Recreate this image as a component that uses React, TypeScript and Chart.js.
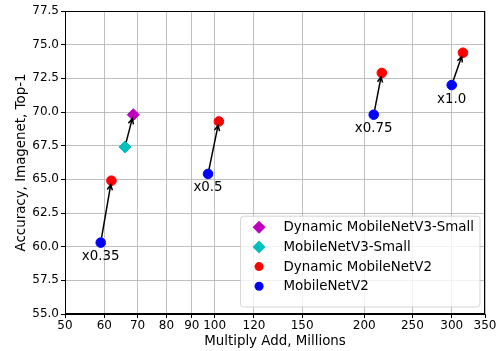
import React, { useEffect, useRef } from 'react';
import { Chart, registerables } from 'chart.js';

Chart.register(...registerables);

const widthLabels = ['x0.35', 'x0.5', 'x0.75', 'x1.0'];
const mbv2MAdds = [59, 97, 209, 300];
const mbv2Acc = [60.3, 65.4, 69.8, 72.0];
const dynMbv2MAdds = [62, 102, 217, 316];
const dynMbv2Acc = [64.9, 69.3, 72.9, 74.4];
const mbv3MAdds = [66];
const mbv3Acc = [67.4];
const dynMbv3MAdds = [68.6];
const dynMbv3Acc = [69.8];
const xTicks = [50, 60, 70, 80, 90, 100, 120, 150, 200, 250, 300, 350];
const yTicks = [55, 57.5, 60, 62.5, 65, 67.5, 70, 72.5, 75, 77.5];

const FONT = "'DejaVu Sans', sans-serif";
const BIG = 13.4;

function pts(xs: number[], ys: number[]) {
  return xs.map((x, i) => ({ x, y: ys[i] }));
}

function drawArrow(ctx: CanvasRenderingContext2D, x0: number, y0: number, x1: number, y1: number, shrinkA: number, shrinkB: number) {
  const dx = x1 - x0;
  const dy = y1 - y0;
  const len = Math.hypot(dx, dy);
  const ux = dx / len;
  const uy = dy / len;
  const sx = x0 + ux * shrinkA;
  const sy = y0 + uy * shrinkA;
  const ex = x1 - ux * shrinkB;
  const ey = y1 - uy * shrinkB;
  ctx.beginPath();
  ctx.moveTo(sx, sy);
  ctx.lineTo(ex, ey);
  const hl = 6;
  const ang = Math.atan2(uy, ux);
  const a = 0.45;
  ctx.moveTo(ex - hl * Math.cos(ang - a), ey - hl * Math.sin(ang - a));
  ctx.lineTo(ex, ey);
  ctx.lineTo(ex - hl * Math.cos(ang + a), ey - hl * Math.sin(ang + a));
  ctx.stroke();
}

const annotPlugin = {
  id: 'annot',
  afterDatasetsDraw(chart: any) {
    const { ctx, scales } = chart;
    const xs = scales.x;
    const ys = scales.y;
    ctx.save();
    ctx.strokeStyle = '#000';
    ctx.lineWidth = 1.5;
    ctx.lineJoin = 'miter';
    for (let i = 0; i < mbv2MAdds.length; i++) {
      drawArrow(
        ctx,
        xs.getPixelForValue(mbv2MAdds[i]), ys.getPixelForValue(mbv2Acc[i]),
        xs.getPixelForValue(dynMbv2MAdds[i]), ys.getPixelForValue(dynMbv2Acc[i]),
        5, 4
      );
    }
    for (let i = 0; i < mbv3MAdds.length; i++) {
      drawArrow(
        ctx,
        xs.getPixelForValue(mbv3MAdds[i]), ys.getPixelForValue(mbv3Acc[i]),
        xs.getPixelForValue(dynMbv3MAdds[i]), ys.getPixelForValue(dynMbv3Acc[i]),
        5, 4
      );
    }
    ctx.fillStyle = '#000';
    ctx.font = `${BIG}px ${FONT}`;
    ctx.textAlign = 'center';
    ctx.textBaseline = 'middle';
    for (let i = 0; i < widthLabels.length; i++) {
      ctx.fillText(widthLabels[i], xs.getPixelForValue(mbv2MAdds[i]), ys.getPixelForValue(mbv2Acc[i]) + 14);
    }
    ctx.restore();
  },
  afterDraw(chart: any) {
    const { ctx, chartArea: ca } = chart;
    ctx.save();
    // spines
    ctx.strokeStyle = '#000';
    ctx.lineWidth = 1;
    ctx.strokeRect(Math.round(ca.left) + 0.5, Math.round(ca.top) + 0.5, Math.round(ca.right - ca.left) - 1, Math.round(ca.bottom - ca.top) - 1);
    // legend
    ctx.font = `${BIG}px ${FONT}`;
    const dsets = chart.data.datasets;
    let maxW = 0;
    dsets.forEach((d: any) => { maxW = Math.max(maxW, ctx.measureText(d.label).width); });
    const w = 43 + maxW + 6;
    const rowH = 19.7;
    const h = 10 + rowH * dsets.length + 2;
    const right = ca.right - 5;
    const bottom = ca.bottom - 7;
    const left = right - w;
    const top = bottom - h;
    const r = 3;
    ctx.beginPath();
    ctx.moveTo(left + r, top);
    ctx.lineTo(right - r, top);
    ctx.quadraticCurveTo(right, top, right, top + r);
    ctx.lineTo(right, bottom - r);
    ctx.quadraticCurveTo(right, bottom, right - r, bottom);
    ctx.lineTo(left + r, bottom);
    ctx.quadraticCurveTo(left, bottom, left, bottom - r);
    ctx.lineTo(left, top + r);
    ctx.quadraticCurveTo(left, top, left + r, top);
    ctx.closePath();
    ctx.fillStyle = 'rgba(255,255,255,0.8)';
    ctx.fill();
    ctx.strokeStyle = 'rgba(204,204,204,0.8)';
    ctx.lineWidth = 1;
    ctx.stroke();
    dsets.forEach((d: any, i: number) => {
      const cy = top + 11 + rowH * i;
      const mx = left + 18.5;
      ctx.fillStyle = d.backgroundColor;
      ctx.beginPath();
      if (d.pointStyle === 'rectRot') {
        const rr = 6.5;
        ctx.moveTo(mx, cy - rr);
        ctx.lineTo(mx + rr, cy);
        ctx.lineTo(mx, cy + rr);
        ctx.lineTo(mx - rr, cy);
        ctx.closePath();
      } else {
        ctx.arc(mx, cy, 4.5, 0, Math.PI * 2);
      }
      ctx.fill();
      ctx.fillStyle = '#000';
      ctx.textAlign = 'left';
      ctx.textBaseline = 'middle';
      ctx.fillText(d.label, left + 43, cy + 0.5);
    });
    ctx.restore();
  },
};

export default function App() {
  const ref = useRef<HTMLCanvasElement | null>(null);
  useEffect(() => {
    document.body.style.margin = '0';
    const canvas = ref.current!;
    const chart = new Chart(canvas, {
      type: 'scatter',
      data: {
        datasets: [
          {
            label: 'Dynamic MobileNetV3-Small',
            data: pts(dynMbv3MAdds, dynMbv3Acc),
            backgroundColor: '#bf00bf',
            borderColor: '#bf00bf',
            pointStyle: 'rectRot',
            pointRadius: 6,
            borderWidth: 1,
          },
          {
            label: 'MobileNetV3-Small',
            data: pts(mbv3MAdds, mbv3Acc),
            backgroundColor: '#00bfbf',
            borderColor: '#00bfbf',
            pointStyle: 'rectRot',
            pointRadius: 6,
            borderWidth: 1,
          },
          {
            label: 'Dynamic MobileNetV2',
            data: pts(dynMbv2MAdds, dynMbv2Acc),
            backgroundColor: '#ff0000',
            borderColor: '#ff0000',
            pointStyle: 'circle',
            pointRadius: 4.8,
            borderWidth: 1,
          },
          {
            label: 'MobileNetV2',
            data: pts(mbv2MAdds, mbv2Acc),
            backgroundColor: '#0000ff',
            borderColor: '#0000ff',
            pointStyle: 'circle',
            pointRadius: 4.8,
            borderWidth: 1,
          },
        ],
      },
      options: {
        responsive: false,
        animation: false,
        devicePixelRatio: 1,
        layout: { padding: { top: 11, right: 17, left: 0, bottom: 0 } },
        plugins: { legend: { display: false }, tooltip: { enabled: false } },
        scales: {
          x: {
            type: 'logarithmic',
            min: 50,
            max: 350,
            afterBuildTicks: (scale: any) => {
              scale.ticks = xTicks.map((v) => ({ value: v }));
            },
            afterFit: (scale: any) => {
              scale.height = 37;
            },
            ticks: {
              autoSkip: false,
              maxRotation: 0,
              minRotation: 0,
              padding: 1,
              color: '#000',
              font: { family: FONT, size: 12 },
              callback: (v: any) => String(v),
            },
            grid: { color: '#b0b0b0', lineWidth: 0.8, tickLength: 4, tickColor: '#000', tickWidth: 1 },
            border: { display: true, color: '#000', width: 1 },
            title: {
              display: true,
              text: 'Multiply Add, Millions',
              color: '#000',
              font: { family: FONT, size: BIG },
              padding: { top: 0, bottom: 1.5 },
            },
          },
          y: {
            type: 'linear',
            min: 55,
            max: 77.5,
            afterBuildTicks: (scale: any) => {
              scale.ticks = yTicks.map((v) => ({ value: v }));
            },
            afterFit: (scale: any) => {
              scale.width = 65;
            },
            ticks: {
              padding: 2,
              color: '#000',
              font: { family: FONT, size: 12 },
              callback: (v: any) => Number(v).toFixed(1),
            },
            grid: { color: '#b0b0b0', lineWidth: 0.8, tickLength: 4, tickColor: '#000', tickWidth: 1 },
            border: { display: true, color: '#000', width: 1 },
            title: {
              display: true,
              text: 'Accuracy, Imagenet, Top-1',
              color: '#000',
              font: { family: FONT, size: BIG },
              padding: { top: 13, bottom: 0 },
            },
          },
        },
      },
      plugins: [annotPlugin],
    } as any);
    return () => chart.destroy();
  }, []);
  return (
    <div style={{ position: 'absolute', left: 0, top: 0, width: 502, height: 351 }}>
      <canvas ref={ref} width={502} height={351} style={{ width: 502, height: 351, display: 'block' }} />
    </div>
  );
}
